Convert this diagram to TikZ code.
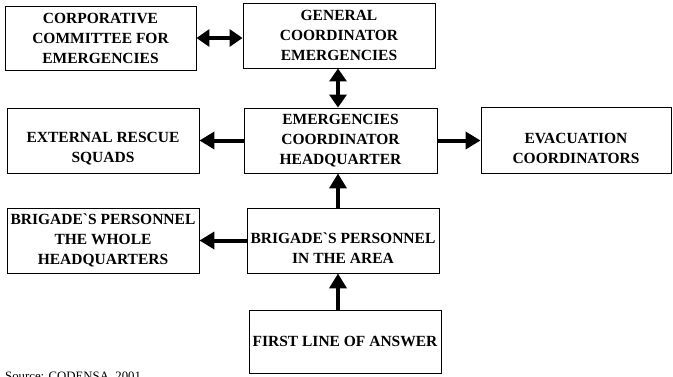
\documentclass[tikz,border=0pt]{standalone}
\usepackage{fontspec}
\setmainfont{Liberation Serif}
\usetikzlibrary{arrows.meta}
\tikzset{
  box/.style={draw, line width=0.9pt, minimum width=192pt, minimum height=65pt, inner sep=0pt},
  txt/.style={font=\bfseries\fontsize{15.5}{20}\selectfont, align=center, inner sep=0pt},
  arr/.style={line width=4pt, -{Triangle[length=15pt,width=17pt]}},
  darr/.style={line width=4pt, {Triangle[length=13pt,width=17pt]}-{Triangle[length=13pt,width=17pt]}},
  src/.style={font=\fontsize{12.8}{15}\selectfont, anchor=base west, inner sep=0pt}
}
\begin{document}
\begin{tikzpicture}[x=1pt,y=-1pt]
\path[use as bounding box, clip] (0,0) rectangle (673,376);
% boxes
\node[box, minimum width=191pt, minimum height=64pt] (b1) at (100.5,38) {};
\node[box] (b2) at (339,35.5) {};
\node[box] (b3) at (103,140.5) {};
\node[box, minimum width=193pt] (b4) at (340.5,140.5) {};
\node[box, minimum width=190pt, minimum height=66pt] (b5) at (576,140) {};
\node[box] (b6) at (103,240.5) {};
\node[box] (b7) at (343,240.5) {};
\node[box, minimum height=63pt] (b8) at (345,341.5) {};
% texts
\node[txt] (t1) at (b1) {CORPORATIVE\\COMMITTEE FOR\\EMERGENCIES};
\node[txt] (t2) at (b2) {GENERAL\\COORDINATOR\\EMERGENCIES};
\node[txt, yshift=-8pt] (t3) at (b3) {EXTERNAL RESCUE\\SQUADS};
\node[txt] (t4) at (b4) {EMERGENCIES\\COORDINATOR\\HEADQUARTER};
\node[txt, yshift=-8pt] (t5) at (b5) {EVACUATION\\COORDINATORS};
\node[txt] (t6) at (b6) {BRIGADE\textasciigrave S PERSONNEL\\THE WHOLE\\HEADQUARTERS};
\node[txt, yshift=-8pt] (t7) at (b7) {BRIGADE\textasciigrave S PERSONNEL\\IN THE AREA};
\node[txt] (t8) at (b8) {FIRST LINE OF ANSWER};
\node[src] (s) at (5,380.5) {Source: CODENSA, 2001};
% axis for vertical connectors
\coordinate (ax) at (338,0);
% connectors
\draw[darr] (b1.east) -- (b1.east -| b2.west);
\draw[darr] (b2.south -| ax) -- (b4.north -| ax);
\draw[arr] (b4.west) -- (b4.west -| b3.east);
\draw[arr] (b4.east) -- (b4.east -| b5.west);
\draw[arr] (b7.north -| ax) -- (b4.south -| ax);
\draw[arr] (b7.west) -- (b7.west -| b6.east);
\draw[arr] (b8.north -| ax) -- (b7.south -| ax);
\end{tikzpicture}
\end{document}
